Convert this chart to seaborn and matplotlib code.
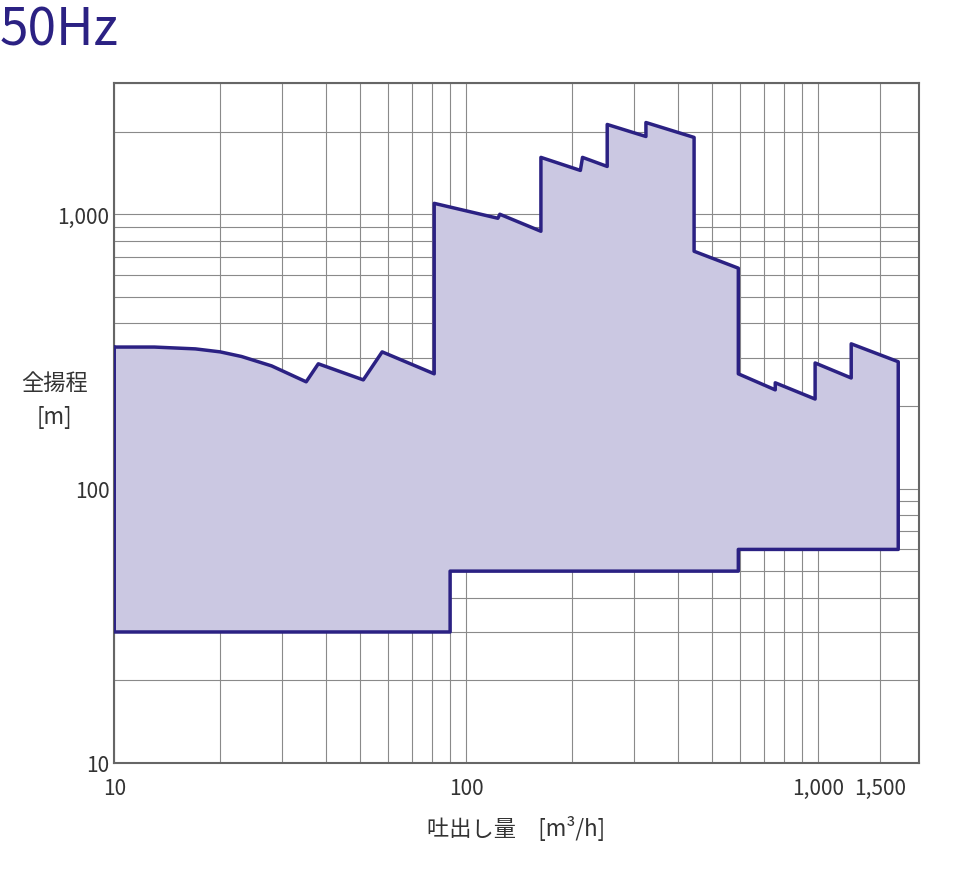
import numpy as np
import seaborn as sns
import matplotlib.pyplot as plt
from matplotlib.ticker import FixedLocator, NullFormatter, LogLocator

sns.set_style('white')
plt.rcParams['font.family'] = ['Noto Sans CJK JP', 'DejaVu Sans']

# upper envelope of the pump selection range (flow m3/h, head m)
upper_q = [10, 13, 17, 20, 23, 28, 35.1, 38.0, 51.0, 57.7, 81.1, 81.1, 123, 124.6, 163, 163,
           211, 214, 251.5, 251.5, 324, 324, 444, 444, 593, 593, 755, 755, 980, 980,
           1241, 1241, 1688, 1688]
upper_h = [328, 328, 323, 315, 303, 280, 245, 285, 249, 315, 262, 1096, 967, 1000, 867, 1612,
           1445, 1612, 1494, 2125, 1921, 2160, 1906, 733, 636, 262, 229, 243, 212, 287,
           253, 337, 290, 60]
# lower envelope, right to left
lower_q = [593, 593, 90, 90, 10, 10]
lower_h = [60, 50, 50, 30, 30, 328]

x_ticks = [10, 100, 1000, 1500]
x_labels = ['10', '100', '1,000', '1,500']
y_ticks = [10, 100, 1000]
y_labels = ['10', '100', '1,000']

line_c = '#2b2183'
fill_c = '#cbc8e2'

fig = plt.figure(figsize=(9.6, 8.7), dpi=100)
ax = fig.add_axes([0.119, 0.122, 0.838, 0.781])

q = upper_q + lower_q
h = upper_h + lower_h
ax.fill(q, h, facecolor=fill_c, edgecolor='none', zorder=2)
sns.lineplot(x=q, y=h, sort=False, estimator=None, color=line_c, lw=2.5, ax=ax, zorder=3)

ax.set_xscale('log')
ax.set_yscale('log')
ax.set_xlim(10, 1930)
ax.set_ylim(10, 3000)

ax.xaxis.set_minor_locator(LogLocator(base=10, subs=np.arange(2, 10)))
ax.yaxis.set_minor_locator(LogLocator(base=10, subs=np.arange(2, 10)))
ax.xaxis.set_minor_formatter(NullFormatter())
ax.yaxis.set_minor_formatter(NullFormatter())
ax.xaxis.set_major_locator(FixedLocator(x_ticks))
ax.yaxis.set_major_locator(FixedLocator(y_ticks))
ax.set_xticklabels(x_labels)
ax.set_yticklabels(y_labels)
ax.grid(True, which='both', color='#8a8a8a', lw=0.8, zorder=1)
ax.set_axisbelow(True)
ax.tick_params(which='both', length=0, labelsize=15, colors='#333333')
ax.tick_params(axis='x', pad=10)
for s in ax.spines.values():
    s.set_color('#666666')
    s.set_linewidth(1.5)

ax.set_xlabel('吐出し量　[m³/h]', fontsize=16, color='#333333', labelpad=12)
fig.text(0.057, 0.54, '全揚程\n[m]', fontsize=16, color='#333333', ha='center', va='center',
         linespacing=1.6)
fig.text(0.0, 0.965, '50Hz', fontsize=37, color='#2b2183', ha='left', va='center')

plt.savefig('out.png', dpi=100)
